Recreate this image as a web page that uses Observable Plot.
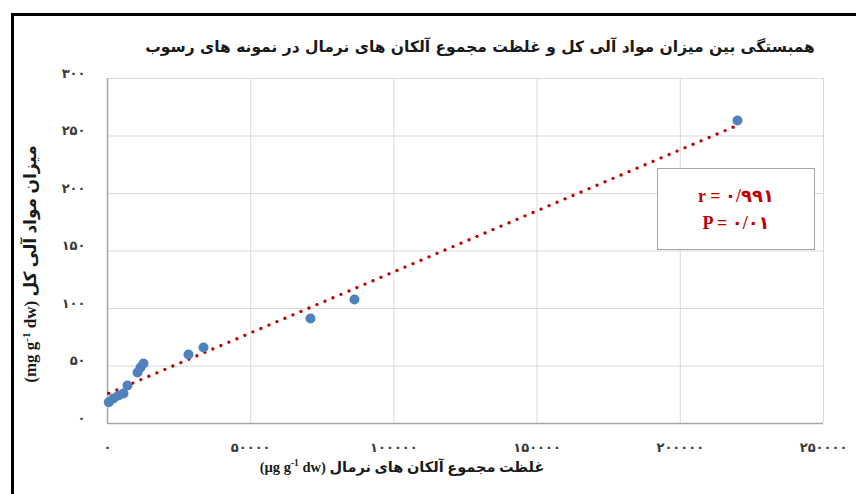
<!DOCTYPE html>
<html>
<head>
<meta charset="utf-8">
<script src="https://cdn.jsdelivr.net/npm/d3@7"></script>
<script src="https://cdn.jsdelivr.net/npm/@observablehq/plot@0.6"></script>
<style>
  html, body { margin: 0; padding: 0; background: #fff; }
  #wrap { position: relative; width: 856px; height: 494px; overflow: hidden; background: #fff; }
  #frame { position: absolute; left: 11px; top: 13px; width: 900px; height: 600px;
           border-left: 3px solid #000; border-top: 3px solid #000; box-sizing: border-box; }
  #chart { position: absolute; left: 0; top: 0; }
  .lbl { position: absolute; white-space: nowrap; font-weight: bold; color: #1a1a1a;
         font-family: "Liberation Serif", "DejaVu Sans", sans-serif; transform: translate(-50%, -50%); }
  #title { left: 480px; top: 47px; font-size: 15.5px; font-family: "DejaVu Sans", sans-serif; }
  #xlab { left: 402px; top: 467px; font-size: 14.5px; }
  #ylab { left: 30px; top: 264px; font-size: 17px; transform: translate(-50%, -50%) rotate(-90deg); }
  #stats { position: absolute; left: 657px; top: 168px; width: 158px; height: 82px; box-sizing: border-box;
           border: 1.5px solid #a6a6a6; background: #fff; display: flex; flex-direction: column;
           justify-content: center; align-items: center; gap: 5px;
           font-family: "Liberation Serif", "DejaVu Sans", serif; font-weight: bold; font-size: 18px; color: #c00000; }
  sup { font-size: 0.65em; }
</style>
</head>
<body>
<div id="wrap">
  <div id="chart"></div>
  <div id="frame"></div>
  <div id="title" class="lbl" dir="rtl"></div>
  <div id="xlab" class="lbl" dir="rtl"></div>
  <div id="ylab" class="lbl" dir="rtl"></div>
  <div id="stats"></div>
</div>
<script>
// ---- data ----
const alkaneTotal = [454, 2095, 3841, 5587, 6983, 10475, 11522, 12570, 28282, 33520, 70880, 86242, 219970];
const organicMatter = [18.5, 21.7, 24.3, 26.1, 33.0, 44.3, 48.7, 52.2, 60.0, 66.1, 91.3, 107.8, 263.5];
const xTicks = [0, 50000, 100000, 150000, 200000, 250000];
const yTicks = [0, 50, 100, 150, 200, 250, 300];
const statLines = ["r = ۰/۹۹۱", "P = ۰/۰۱"];
const titleText = "همبستگی بین میزان مواد آلی کل و غلظت مجموع آلکان های نرمال در نمونه های رسوب";
const xLabelMain = "غلظت مجموع آلکان های نرمال";
const xLabelUnit = ["µg g", "-1", " dw"];
const yLabelMain = "میزان مواد آلی کل";
const yLabelUnit = ["mg g", "-1", " dw"];

const data = alkaneTotal.map((x, i) => ({x, y: organicMatter[i]}));
const toFa = n => String(n).replace(/\d/g, d => "۰۱۲۳۴۵۶۷۸۹"[d]);

const chart = Plot.plot({
  width: 856,
  height: 494,
  marginLeft: 107,
  marginRight: 33,
  marginTop: 78,
  marginBottom: 71,
  style: {fontFamily: "DejaVu Sans, sans-serif", fontSize: "13px", fontWeight: "bold", color: "#3a3a3a", background: "transparent"},
  x: {domain: [0, 250000]},
  y: {domain: [0, 300]},
  marks: [
    Plot.gridX(xTicks, {stroke: "#d9d9d9", strokeOpacity: 1}),
    Plot.gridY(yTicks, {stroke: "#d9d9d9", strokeOpacity: 1}),
    Plot.axisX({ticks: xTicks, tickFormat: toFa, tickSize: 0, tickPadding: 19, label: null}),
    Plot.axisY({ticks: yTicks, tickFormat: toFa, tickSize: 0, tickPadding: 22, label: null, dy: -5}),
    Plot.ruleY([0], {stroke: "#a6a6a6", strokeWidth: 1.5}),
    Plot.ruleX([0], {stroke: "#a6a6a6", strokeWidth: 1.5}),
    Plot.linearRegressionY(data, {x: "x", y: "y", ci: 0, stroke: "#c00000", strokeWidth: 3.2,
      strokeDasharray: "0.1,8.6", strokeLinecap: "round"}),
    Plot.dot(data, {x: "x", y: "y", r: 5, fill: "#4f81bd", stroke: "none"})
  ]
});
document.getElementById("chart").appendChild(chart);

document.getElementById("title").textContent = titleText;
const unitHtml = u => `(${u[0]}<sup>${u[1]}</sup>${u[2]})`;
document.getElementById("xlab").innerHTML = `${xLabelMain} <span dir="ltr">${unitHtml(xLabelUnit)}</span>`;
document.getElementById("ylab").innerHTML = `${yLabelMain} <span dir="ltr">${unitHtml(yLabelUnit)}</span>`;
document.getElementById("stats").innerHTML = statLines.map(s => `<div dir="ltr">${s}</div>`).join("");
</script>
</body>
</html>
